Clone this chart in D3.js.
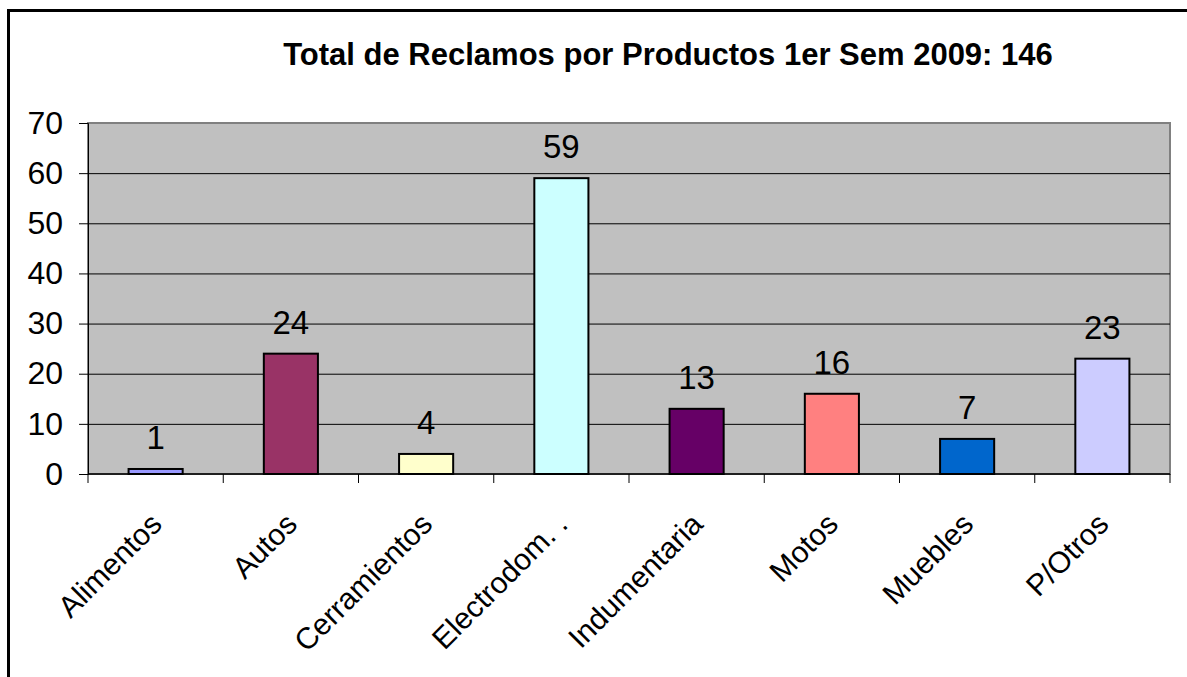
<!DOCTYPE html>
<html>
<head>
<meta charset="utf-8">
<script src="https://cdn.jsdelivr.net/npm/d3@7"></script>
<style>
  html, body { margin: 0; padding: 0; background: #fff; }
  svg { display: block; font-family: Arial, "Liberation Sans", sans-serif; }
</style>
</head>
<body>
<svg id="chart" width="1187" height="677"></svg>
<script>
const categories = ["Alimentos", "Autos", "Cerramientos", "Electrodom. .", "Indumentaria", "Motos", "Muebles", "P/Otros"];
const values     = [1, 24, 4, 59, 13, 16, 7, 23];
const colors     = ["#9999FF", "#993366", "#FFFFCC", "#CCFFFF", "#660066", "#FF8080", "#0066CC", "#CCCCFF"];
const yTicks     = [0, 10, 20, 30, 40, 50, 60, 70];
const title      = "Total de Reclamos por Productos 1er Sem 2009: 146";

const svg = d3.select("#chart");
const plot = { left: 88, right: 1170, top: 123, bottom: 474 };

// outer frame (runs off the picture on right and bottom)
svg.append("rect")
  .attr("x", 8.5).attr("y", 10.5)
  .attr("width", 1250).attr("height", 750)
  .attr("fill", "none")
  .attr("stroke", "#000")
  .attr("stroke-width", 3);

svg.append("text")
  .attr("x", 668).attr("y", 65)
  .attr("text-anchor", "middle")
  .attr("font-size", 31)
  .attr("font-weight", "bold")
  .text(title);

const x = d3.scaleBand()
  .domain(categories)
  .range([plot.left, plot.right])
  .paddingInner(0.6)
  .paddingOuter(0.3);

const y = d3.scaleLinear()
  .domain([0, 70])
  .range([plot.bottom, plot.top]);

// plot background
svg.append("rect")
  .attr("x", plot.left).attr("y", plot.top)
  .attr("width", plot.right - plot.left)
  .attr("height", plot.bottom - plot.top)
  .attr("fill", "#C0C0C0")
  .attr("stroke", "#808080")
  .attr("stroke-width", 2);

// gridlines
svg.append("g")
  .selectAll("line")
  .data(yTicks.slice(1, -1))
  .join("line")
  .attr("x1", plot.left).attr("x2", plot.right)
  .attr("y1", d => y(d) + 0.5).attr("y2", d => y(d) + 0.5)
  .attr("stroke", "#000")
  .attr("stroke-width", 1);

// y axis
const yAxis = svg.append("g")
  .attr("transform", `translate(${plot.left},0)`)
  .call(d3.axisLeft(y).tickValues(yTicks).tickSize(9).tickPadding(16));
yAxis.select(".domain").attr("stroke", "#000");
yAxis.selectAll(".tick line").attr("stroke", "#000");
yAxis.selectAll("text")
  .attr("font-size", 32)
  .attr("font-family", "Arial, 'Liberation Sans', sans-serif")
  .attr("fill", "#000");

// bars
svg.append("g")
  .selectAll("rect")
  .data(values)
  .join("rect")
  .attr("x", (d, i) => x(categories[i]))
  .attr("y", d => y(d))
  .attr("width", x.bandwidth())
  .attr("height", d => y(0) - y(d))
  .attr("fill", (d, i) => colors[i])
  .attr("stroke", "#000")
  .attr("stroke-width", 2);

// value labels
svg.append("g")
  .selectAll("text")
  .data(values)
  .join("text")
  .attr("x", (d, i) => x(categories[i]) + x.bandwidth() / 2)
  .attr("y", d => y(d) - 20)
  .attr("text-anchor", "middle")
  .attr("font-size", 33)
  .text(d => d);

// x axis with ticks at category boundaries
svg.append("line")
  .attr("x1", plot.left).attr("x2", plot.right)
  .attr("y1", plot.bottom).attr("y2", plot.bottom)
  .attr("stroke", "#000").attr("stroke-width", 1.5);

svg.append("g")
  .selectAll("line")
  .data(d3.range(categories.length + 1))
  .join("line")
  .attr("x1", i => plot.left + i * x.step())
  .attr("x2", i => plot.left + i * x.step())
  .attr("y1", plot.bottom).attr("y2", plot.bottom + 9)
  .attr("stroke", "#000");

svg.append("g")
  .selectAll("text")
  .data(categories)
  .join("text")
  .attr("transform", d => `translate(${x(d) + x.bandwidth() / 2 + 8},${plot.bottom + 52}) rotate(-45)`)
  .attr("text-anchor", "end")
  .attr("font-size", 30)
  .text(d => d);
</script>
</body>
</html>
